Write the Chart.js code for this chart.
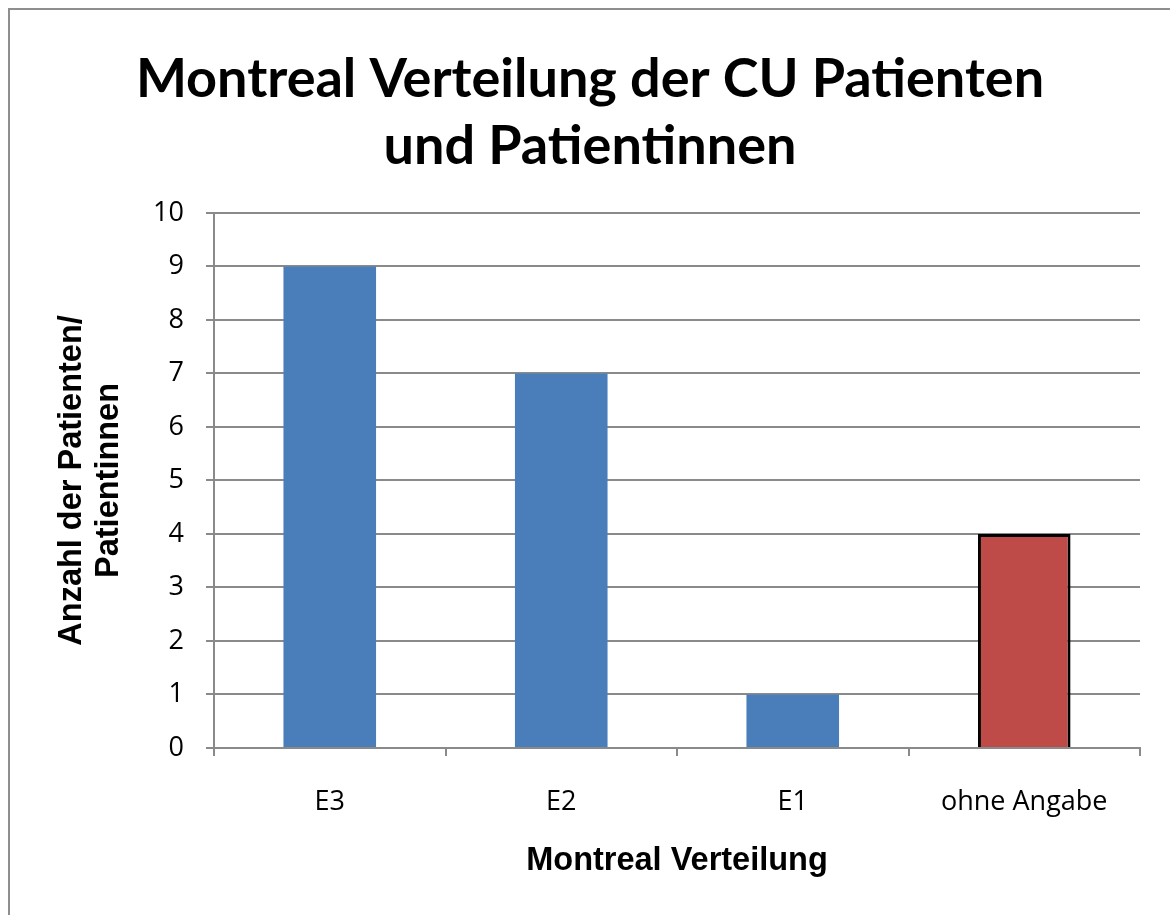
<!DOCTYPE html>
<html>
<head>
<meta charset="utf-8">
<script src="https://cdn.jsdelivr.net/npm/chart.js@4"></script>
<style>
  html, body { margin: 0; padding: 0; background: #fff; overflow: hidden; }
  #wrap { position: relative; width: 1170px; height: 915px; }
  #frame { position: absolute; left: 8px; top: 8px; width: 1200px; height: 1000px; border: 2px solid #8e8e8e; box-sizing: border-box; pointer-events: none; }
  canvas { position: absolute; left: 0; top: 0; }
</style>
</head>
<body>
<div id="wrap">
  <canvas id="c" width="1170" height="915"></canvas>
  <div id="frame"></div>
</div>
<script>
const categories = ['E3', 'E2', 'E1', 'ohne Angabe'];
const values = [9, 7, 1, 4];
const barColors = ['#4a7ebb', '#4a7ebb', '#4a7ebb', '#be4b48'];
const barBorderWidths = [0, 0, 0, 3];
const titleLines = ['Montreal Verteilung der CU Patienten', 'und Patientinnen'];
const yTitleLines = ['Anzahl der Patienten/', 'Patientinnen'];
const xTitle = 'Montreal Verteilung';
const yMin = 0, yMax = 10, yStep = 1;

const gridColor = '#8a8a8a';

new Chart(document.getElementById('c'), {
  type: 'bar',
  data: {
    labels: categories,
    datasets: [{
      data: values,
      backgroundColor: barColors,
      borderColor: '#000',
      borderWidth: barBorderWidths,
      borderSkipped: 'bottom',
      categoryPercentage: 1.0,
      barPercentage: 0.4
    }]
  },
  options: {
    responsive: false,
    animation: false,
    devicePixelRatio: 1,
    layout: { padding: { left: 40, right: 30, top: 0, bottom: 0 } },
    plugins: {
      legend: { display: false },
      tooltip: { enabled: false },
      title: {
        display: true,
        text: titleLines,
        color: '#000',
        font: { family: 'Lato', size: 54, weight: 'bold', lineHeight: 1.24 },
        padding: { top: 46, bottom: 33 }
      }
    },
    scales: {
      x: {
        offset: true,
        grid: { display: true, drawOnChartArea: false, drawTicks: true, tickLength: 8, offset: true, color: gridColor, lineWidth: 2 },
        border: { display: true, color: gridColor, width: 2 },
        ticks: { color: '#000', padding: 30, font: { family: 'Open Sans', size: 27 } },
        title: { display: true, text: xTitle, color: '#000', font: { family: 'Liberation Sans', size: 32.5, weight: 'bold', lineHeight: 1.2 }, padding: { top: 0, bottom: 34 } },
        afterFit: (s) => { s.height = 167; }
      },
      y: {
        min: yMin, max: yMax,
        grid: { color: gridColor, lineWidth: 2, tickLength: 8 },
        border: { display: true, color: gridColor, width: 2 },
        ticks: { stepSize: yStep, color: '#000', padding: 22, font: { family: 'Open Sans', size: 27 } },
        title: { display: true, text: yTitleLines, color: '#000', font: { family: 'Liberation Sans', size: 32.5, weight: 'bold', lineHeight: 1.12 }, padding: { top: 14, bottom: 0 } },
        afterFit: (s) => { s.width = 174; }
      }
    }
  }
});
</script>
</body>
</html>
